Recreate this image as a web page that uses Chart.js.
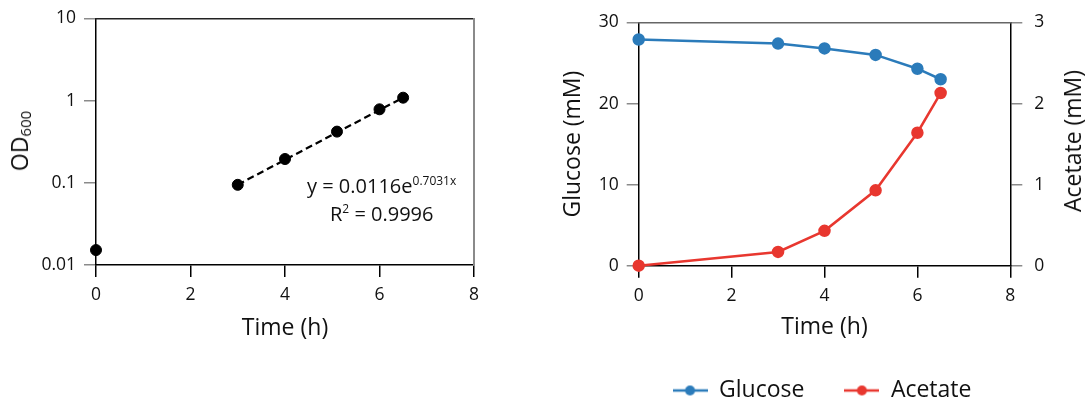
<!DOCTYPE html>
<html>
<head>
<meta charset="utf-8">
<script src="https://cdn.jsdelivr.net/npm/chart.js@4/dist/chart.umd.min.js"></script>
<style>
  html, body { margin:0; padding:0; background:#fff; width:1088px; height:401px; overflow:hidden; font-family:"Open Sans", sans-serif; color:#111; }
  #wrapL { position:absolute; left:0; top:0; width:540px; height:401px; }
  #wrapR { position:absolute; left:556px; top:0; width:532px; height:412px; }
  .txt { position:absolute; white-space:nowrap; color:#111; font-family:"Open Sans", sans-serif; }
  .rot { transform: translate(-50%,-50%) rotate(-90deg); }
</style>
</head>
<body>
<div id="wrapL"><canvas id="cL" width="540" height="401"></canvas></div>
<div id="wrapR"><canvas id="cR" width="532" height="412"></canvas></div>

<div class="txt rot" style="left:22px; top:141px; font-size:23px; line-height:26px;">OD<span style="font-size:15px; vertical-align:-3px;">600</span></div>
<div class="txt rot" style="left:1072px; top:141px; font-size:23px; line-height:26px;">Acetate (mM)</div>
<div class="txt" style="left:307px; top:168px; font-size:20px; line-height:26px;">y = 0.0116e<span style="font-size:12px; vertical-align:8px;">0.7031x</span></div>
<div class="txt" style="left:330px; top:196px; font-size:20px; line-height:26px;">R<span style="font-size:12px; vertical-align:8px;">2</span> = 0.9996</div>

<script>
// ---- data ----
const timeH = [0, 3, 4, 5.1, 6, 6.5];
const od600 = [0.0152, 0.0946, 0.195, 0.42, 0.785, 1.087];
const trendTime = [3, 6.5];
const trendOD = [0.095, 1.09];
const glucoseMM = [27.9, 27.4, 26.8, 26.0, 24.3, 23.0];
const acetateMM = [0, 0.17, 0.43, 0.93, 1.64, 2.13];
const odTicks = [0.01, 0.1, 1, 10];
const odTickLabels = ['0.01', '0.1', '1', '10'];
const seriesNames = ['Glucose', 'Acetate'];
const seriesColors = ['#2b7bba', '#e8372f'];

const FONT = '"Open Sans", sans-serif';
const TXT = '#111';
const pts = (xs, ys) => xs.map((x, i) => ({x: x, y: ys[i]}));

const tickFont = {family: FONT, size: 17.5};
const titleFont = {family: FONT, size: 23, lineHeight: 1};

// ---- left chart ----
new Chart(document.getElementById('cL'), {
  type: 'scatter',
  data: {
    datasets: [
      { data: pts(timeH, od600), backgroundColor: '#000', borderColor: '#000',
        pointRadius: 5.5, pointHoverRadius: 5.5, showLine: false, clip: false },
      { data: pts(trendTime, trendOD), borderColor: '#000', borderWidth: 2.2,
        borderDash: [7, 4], pointRadius: 0, showLine: true, fill: false, clip: false }
    ]
  },
  options: {
    responsive: false, animation: false, devicePixelRatio: 1,
    layout: { padding: { top: 17, right: 66, left: 0, bottom: 0 } },
    plugins: { legend: { display: false }, tooltip: { enabled: false } },
    scales: {
      x: {
        type: 'linear', position: 'bottom', min: 0, max: 8,
        ticks: { stepSize: 2, color: TXT, font: tickFont, padding: 8 },
        grid: { display: true, drawOnChartArea: false, drawTicks: true, tickLength: 12, color: '#000', lineWidth: 1.5 },
        border: { display: true, color: '#000', width: 1.5 },
        title: { display: true, text: 'Time (h)', color: TXT, font: titleFont, padding: { top: 0, bottom: 61.5 } },
        afterFit: s => { s.height = 136; }
      },
      y: {
        type: 'logarithmic', position: 'left', min: 0.01, max: 10,
        afterBuildTicks: s => { s.ticks = odTicks.map(v => ({value: v})); },
        ticks: { color: TXT, font: tickFont, padding: 8,
                 callback: (v) => { const i = odTicks.indexOf(v); return i >= 0 ? odTickLabels[i] : ''; } },
        grid: { display: true, drawOnChartArea: false, drawTicks: true, tickLength: 12, color: '#8a8a8a', lineWidth: 1.5 },
        border: { display: true, color: '#000', width: 1.5 },
        afterFit: s => { s.width = 96; }
      },
      xTop: {
        type: 'linear', position: 'top', min: 0, max: 8, display: true,
        ticks: { display: false }, grid: { display: false, drawTicks: false },
        border: { display: true, color: '#222', width: 1.5 },
        afterFit: s => { s.height = 0; }
      },
      yRight: {
        type: 'linear', position: 'right', min: 0, max: 1, display: true,
        ticks: { display: false }, grid: { display: false, drawTicks: false },
        border: { display: true, color: '#8a8a8a', width: 2 },
        afterFit: s => { s.width = 0; }
      }
    }
  }
});

// ---- right chart ----
function legendIcon(color) {
  const c = document.createElement('canvas');
  c.width = 35; c.height = 12;
  const g = c.getContext('2d');
  g.strokeStyle = color; g.lineWidth = 2.5;
  g.beginPath(); g.moveTo(0, 6); g.lineTo(35, 6); g.stroke();
  g.fillStyle = color;
  g.beginPath(); g.arc(17.5, 6, 5, 0, Math.PI * 2); g.fill();
  return c;
}
const icons = seriesColors.map(legendIcon);

new Chart(document.getElementById('cR'), {
  type: 'line',
  data: {
    datasets: [
      { label: seriesNames[0], data: pts(timeH, glucoseMM), yAxisID: 'y',
        borderColor: seriesColors[0], backgroundColor: seriesColors[0], borderWidth: 2.5,
        pointRadius: 5, pointHoverRadius: 5, tension: 0, clip: false },
      { label: seriesNames[1], data: pts(timeH, acetateMM), yAxisID: 'y1',
        borderColor: seriesColors[1], backgroundColor: seriesColors[1], borderWidth: 2.5,
        pointRadius: 5, pointHoverRadius: 5, tension: 0, clip: false }
    ]
  },
  options: {
    responsive: false, animation: false, devicePixelRatio: 1,
    layout: { padding: { top: 16.7, right: 0, left: 0, bottom: 0 } },
    plugins: {
      tooltip: { enabled: false },
      legend: {
        display: true, position: 'bottom', align: 'center',
        labels: {
          usePointStyle: true, pointStyleWidth: 35, padding: 40,
          color: TXT, font: { family: FONT, size: 23 },
          generateLabels: (chart) => {
            const items = Chart.defaults.plugins.legend.labels.generateLabels(chart);
            items.forEach((it, i) => { it.pointStyle = icons[i]; });
            return items;
          }
        }
      }
    },
    scales: {
      x: {
        type: 'linear', position: 'bottom', min: 0, max: 8,
        ticks: { stepSize: 2, color: TXT, font: tickFont, padding: 8 },
        grid: { display: true, drawOnChartArea: false, drawTicks: true, tickLength: 12, color: '#000', lineWidth: 1.5 },
        border: { display: true, color: '#000', width: 1.5 },
        title: { display: true, text: 'Time (h)', color: TXT, font: titleFont, padding: { top: 0, bottom: 0 } },
        afterFit: s => { s.height = 73.3; }
      },
      y: {
        type: 'linear', position: 'left', min: 0, max: 30,
        ticks: { stepSize: 10, color: TXT, font: tickFont, padding: 8 },
        grid: { display: true, drawOnChartArea: false, drawTicks: true, tickLength: 12, color: '#8a8a8a', lineWidth: 1.5 },
        border: { display: true, color: '#000', width: 1.5 },
        title: { display: true, text: 'Glucose (mM)', color: TXT, font: titleFont, padding: { top: 5.5, bottom: 0 } },
        afterFit: s => { s.width = 82.7; }
      },
      y1: {
        type: 'linear', position: 'right', min: 0, max: 3,
        ticks: { stepSize: 1, color: TXT, font: tickFont, padding: 12 },
        grid: { display: true, drawOnChartArea: false, drawTicks: true, tickLength: 12, color: '#8a8a8a', lineWidth: 1.5 },
        border: { display: true, color: '#000', width: 1.5 },
        afterFit: s => { s.width = 77.7; }
      },
      xTop: {
        type: 'linear', position: 'top', min: 0, max: 8, display: true,
        ticks: { display: false }, grid: { display: false, drawTicks: false },
        border: { display: true, color: '#666', width: 1.5 },
        afterFit: s => { s.height = 0; }
      }
    }
  }
});
</script>
</body>
</html>
